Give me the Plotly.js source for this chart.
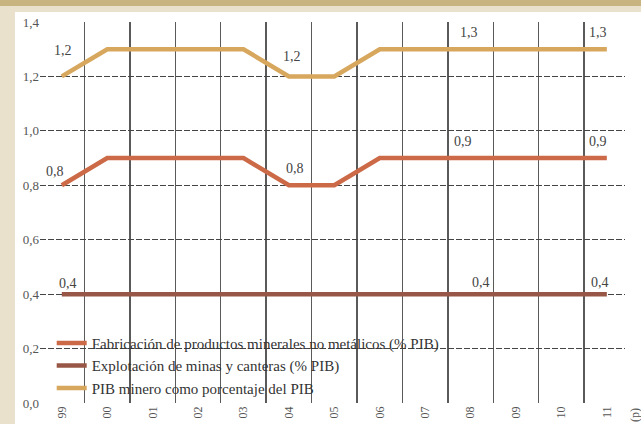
<!DOCTYPE html>
<html>
<head>
<meta charset="utf-8">
<script src="https://cdn.plot.ly/plotly-3.0.1.min.js"></script>
<style>
  html, body { margin: 0; padding: 0; background: #ffffff; }
  #wrap { position: relative; width: 641px; height: 424px; overflow: hidden; background: #ffffff; }
  #bandTop { position: absolute; left: 0; top: 0; width: 641px; height: 6px; background: #c8b47e; }
  #bandTop2 { position: absolute; left: 0; top: 6px; width: 641px; height: 6px; background: #e9e1cb; }
  #bandLeft { position: absolute; left: 0; top: 6px; width: 15px; height: 418px; background: #e9e1cb; }
  #chart { position: absolute; left: 0; top: 0; width: 641px; height: 424px; }
</style>
</head>
<body>
<div id="wrap">
  <div id="bandTop"></div>
  <div id="bandTop2"></div>
  <div id="bandLeft"></div>
  <div id="chart"></div>
</div>
<script>
// ---- Data ----
var years = ['99','00','01','02','03','04','05','06','07','08','09','10','11'];
var fabricacion = [0.8,0.9,0.9,0.9,0.9,0.8,0.8,0.9,0.9,0.9,0.9,0.9,0.9];
var explotacion = [0.4,0.4,0.4,0.4,0.4,0.4,0.4,0.4,0.4,0.4,0.4,0.4,0.4];
var pibMinero   = [1.2,1.3,1.3,1.3,1.3,1.2,1.2,1.3,1.3,1.3,1.3,1.3,1.3];
var seriesNames = [
  'Fabricación de productos minerales no metálicos (% PIB)',
  'Explotación de minas y canteras (% PIB)',
  'PIB minero como porcentaje del PIB'
];
var fabLabelIdx = [0, 5, 9, 12];
var expLabelIdx = [0, 9, 12];
var pibLabelIdx = [0, 5, 9, 12];
var yTicks = [0, 0.2, 0.4, 0.6, 0.8, 1.0, 1.2, 1.4];
var periodNote = '(p)';

// ---- Styles ----
var colFab = '#cc6a48';
var colExp = '#985746';
var colPib = '#d8a75e';
var serif = "'Liberation Serif', 'Times New Roman', 'DejaVu Serif', serif";
var xIdx = years.map(function(_, i){ return i; });

function lineTrace(y, name, color) {
  return { x: xIdx, y: y, name: name, type: 'scatter', mode: 'lines',
           line: { color: color, width: 4.5 }, hoverinfo: 'skip' };
}
var traces = [
  lineTrace(fabricacion, seriesNames[0], colFab),
  lineTrace(explotacion, seriesNames[1], colExp),
  lineTrace(pibMinero, seriesNames[2], colPib)
];

function fmt(v){ return v.toFixed(1).replace('.', ','); }
var annotations = [];
function addLabels(series, idxs, offs) {
  idxs.forEach(function(i, k){
    annotations.push({ x: i, y: series[i], xref: 'x', yref: 'y', text: fmt(series[i]),
      showarrow: false, xshift: offs[k][0], yshift: offs[k][1],
      font: { family: serif, size: 14, color: '#444' } });
  });
}
addLabels(pibMinero, pibLabelIdx, [[1,26],[3,20],[-2,17],[-9,17]]);
addLabels(fabricacion, fabLabelIdx, [[-7,14],[6,17],[-8,17],[-9,17]]);
addLabels(explotacion, expLabelIdx, [[6,11],[10,12],[-7,12]]);
annotations.push({ x: 1.0, xref: 'paper', y: 0, yref: 'paper', text: periodNote, showarrow: false,
  textangle: -90, xanchor: 'left', yanchor: 'top', xshift: 1, yshift: -3,
  font: { family: serif, size: 12, color: '#555' } });

var minorVals = [];
for (var m = 0; m < years.length - 1; m++) minorVals.push(m + 0.5);

var layout = {
  width: 641, height: 424,
  margin: { l: 40, r: 16, t: 22, b: 21 },
  paper_bgcolor: 'rgba(0,0,0,0)',
  plot_bgcolor: 'rgba(0,0,0,0)',
  separators: ',.',
  showlegend: true,
  legend: { x: 0.02, y: 0.2, xanchor: 'left', yanchor: 'top', bgcolor: 'rgba(0,0,0,0)',
            font: { family: serif, size: 15, color: '#333' }, itemwidth: 30, tracegroupgap: 0 },
  xaxis: {
    range: [-0.48, 12.4], showgrid: false, zeroline: false, showline: false,
    tickmode: 'array', tickvals: xIdx, ticktext: years, tickangle: -90, ticks: '',
    tickfont: { family: serif, size: 12, color: '#555' },
    minor: { tickmode: 'array', tickvals: minorVals, showgrid: true, gridcolor: '#5a5a5a', gridwidth: 1.4, ticks: '' }
  },
  yaxis: {
    range: [0, 1.4], tickmode: 'array', tickvals: yTicks, tickformat: '.1f', ticks: '',
    showgrid: true, gridcolor: '#444', gridwidth: 1, griddash: '6px,2px',
    zeroline: false, showline: false,
    tickfont: { family: serif, size: 13, color: '#555' }
  },
  annotations: annotations
};

Plotly.newPlot('chart', traces, layout, { displayModeBar: false, staticPlot: true });
</script>
</body>
</html>
